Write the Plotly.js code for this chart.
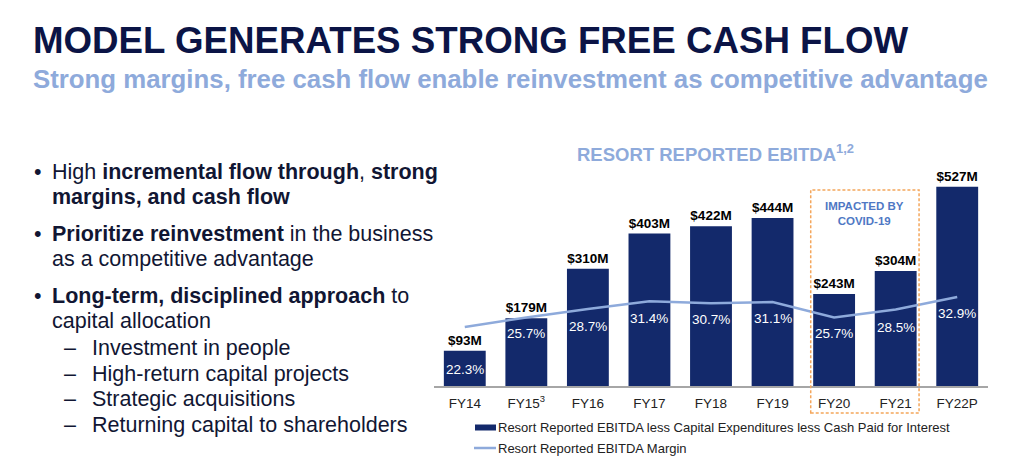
<!DOCTYPE html>
<html><head><meta charset="utf-8">
<script src="https://cdn.plot.ly/plotly-3.0.1.min.js"></script>
<style>html,body{margin:0;padding:0;background:#fff;}#chart{width:1024px;height:469px;}</style>
</head><body><div id="chart"></div>
<script>
const categories = ['FY14','FY15','FY16','FY17','FY18','FY19','FY20','FY21','FY22P'];
const tickLabels = ['FY14','FY15<sup>3</sup>','FY16','FY17','FY18','FY19','FY20','FY21','FY22P'];
const ebitdaLessCapex = [93,179,310,403,422,444,243,304,527];
const ebitdaMargin = [22.3,25.7,28.7,31.4,30.7,31.1,25.7,28.5,32.9];
const seriesNames = ['Resort Reported EBITDA less Capital Expenditures less Cash Paid for Interest','Resort Reported EBITDA Margin'];
const titleText = 'MODEL GENERATES STRONG FREE CASH FLOW';
const subtitleText = 'Strong margins, free cash flow enable reinvestment as competitive advantage';
const chartTitle = 'RESORT REPORTED EBITDA<sup>1,2</sup>';
const covidNote = 'IMPACTED BY<br>COVID-19';
const bulletLines = [
  {lvl:1, mark:true, t:'High <b>incremental flow through</b>, <b>strong</b>'},
  {lvl:1, mark:false, t:'<b>margins, and cash flow</b>'},
  {lvl:1, mark:true, t:'<b>Prioritize reinvestment</b> in the business'},
  {lvl:1, mark:false, t:'as a competitive advantage'},
  {lvl:1, mark:true, t:'<b>Long-term, disciplined approach</b> to'},
  {lvl:1, mark:false, t:'capital allocation'},
  {lvl:2, mark:true, t:'Investment in people'},
  {lvl:2, mark:true, t:'High-return capital projects'},
  {lvl:2, mark:true, t:'Strategic acquisitions'},
  {lvl:2, mark:true, t:'Returning capital to shareholders'}
];

// layout geometry (pixels)
const W=1024,H=469, L=434, R=36, T=170, B=83;
const PW=W-L-R, PH=H-T-B;
const px = x => (x-L)/PW;
const py = y => (H-B-y)/PH;
const FONT = 'Liberation Sans, Arial, sans-serif';
const NAVY='#13296b', LIGHT='#8eaadb', DARK='#0b1446', TXT='#111633';

const bulletY = [172,197,234,259,296,321,348,374,399,425];
const labelShift = [-42,-16,-18,-17,-16,-16,-16,-18,-16];

const annotations = [];
annotations.push({xref:'paper',yref:'paper',x:px(31),y:py(41),xanchor:'left',yanchor:'middle',showarrow:false,
  text:'<b>'+titleText+'</b>',font:{family:FONT,size:36.7,color:DARK}});
annotations.push({xref:'paper',yref:'paper',x:px(31),y:py(79),xanchor:'left',yanchor:'middle',showarrow:false,
  text:'<b>'+subtitleText+'</b>',font:{family:FONT,size:25.8,color:LIGHT}});
annotations.push({xref:'paper',yref:'paper',x:px(715),y:py(153),xanchor:'center',yanchor:'middle',showarrow:false,
  text:'<b>'+chartTitle+'</b>',font:{family:FONT,size:18.5,color:LIGHT}});
annotations.push({xref:'x',yref:'paper',x:6.5,y:py(213),xanchor:'center',yanchor:'middle',showarrow:false,
  text:'<b>'+covidNote+'</b>',font:{family:FONT,size:11.5,color:'#4f78c4'}});
bulletLines.forEach((b,i)=>{
  const tx = b.lvl===1?50:90, mx = b.lvl===1?32:62;
  if(b.mark) annotations.push({xref:'paper',yref:'paper',x:px(mx),y:py(bulletY[i]),xanchor:'left',yanchor:'middle',showarrow:false,
    text:b.lvl===1?'•':'–',font:{family:FONT,size:21.5,color:TXT}});
  annotations.push({xref:'paper',yref:'paper',x:px(tx),y:py(bulletY[i]),xanchor:'left',yanchor:'middle',showarrow:false,
    text:b.t,font:{family:FONT,size:21.5,color:TXT}});
});
categories.forEach((c,i)=>{
  annotations.push({xref:'x',yref:'y2',x:c,y:ebitdaMargin[i],yshift:labelShift[i],showarrow:false,
    text:ebitdaMargin[i].toFixed(1)+'%',font:{family:FONT,size:13.5,color:'#ffffff'}});
});
annotations.push({xref:'paper',yref:'paper',x:px(496),y:py(427),xanchor:'left',yanchor:'middle',showarrow:false,
  text:seriesNames[0],font:{family:FONT,size:13,color:'#222'}});
annotations.push({xref:'paper',yref:'paper',x:px(496),y:py(448),xanchor:'left',yanchor:'middle',showarrow:false,
  text:seriesNames[1],font:{family:FONT,size:13,color:'#222'}});

const shapes = [
  {type:'rect',xref:'x',yref:'paper',x0:5.62,x1:7.38,y0:py(413),y1:py(190),line:{color:'#f4a65b',width:1.5,dash:'3px,2px'},fillcolor:'rgba(0,0,0,0)'},
  {type:'rect',xref:'paper',yref:'paper',x0:px(475),x1:px(496),y0:py(430.5),y1:py(424.5),line:{width:0},fillcolor:NAVY},
  {type:'line',xref:'paper',yref:'paper',x0:px(474),x1:px(496),y0:py(448),y1:py(448),line:{color:LIGHT,width:2.5}}
];

const data = [
  {type:'bar',x:categories,y:ebitdaLessCapex,name:seriesNames[0],marker:{color:NAVY},
   texttemplate:'<b>$%{y}M</b>',textposition:'outside',cliponaxis:false,
   textfont:{family:FONT,size:13.5,color:'#000'},hoverinfo:'skip'},
  {type:'scatter',mode:'lines',x:categories,y:ebitdaMargin,yaxis:'y2',name:seriesNames[1],
   line:{color:LIGHT,width:2.5},hoverinfo:'skip'}
];

const layout = {
  width:W,height:H,margin:{l:L,r:R,t:T,b:B},paper_bgcolor:'#fff',plot_bgcolor:'rgba(0,0,0,0)',
  showlegend:false,bargap:0.32,font:{family:FONT},
  xaxis:{type:'category',range:[-0.5,8.5],tickvals:categories,ticktext:tickLabels,showline:true,linecolor:'#a6a6a6',linewidth:1.5,
    ticks:'',ticklabelstandoff:4,showgrid:false,zeroline:false,tickfont:{family:FONT,size:13.5,color:'#222'},fixedrange:true},
  yaxis:{range:[0,571],visible:false,fixedrange:true},
  yaxis2:{range:[1.45,77.8],overlaying:'y',visible:false,fixedrange:true},
  annotations:annotations,shapes:shapes
};
Plotly.newPlot('chart',data,layout,{displayModeBar:false,staticPlot:true});
</script></body></html>
